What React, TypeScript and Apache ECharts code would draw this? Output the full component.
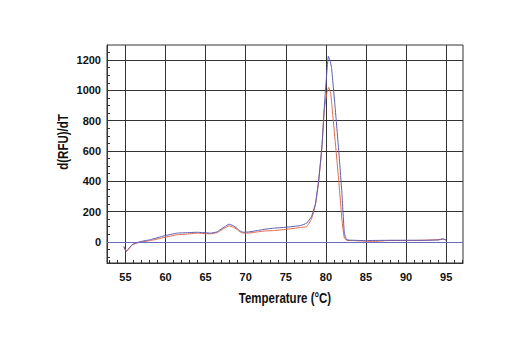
import React, { useEffect, useRef } from "react";
import * as echarts from "echarts";

const blueX = [54.8, 55.1, 55.5, 55.8, 56.3, 56.9, 58.1, 59.8, 61.4, 62.5, 63.9, 65.0, 65.6, 66.4, 66.8, 67.4, 67.9, 68.4, 68.9, 69.3, 69.7, 70.5, 71.4, 72.5, 73.5, 75.0, 76.8, 77.6, 78.2, 78.7, 79.1, 79.5, 79.8, 80.1, 80.3, 80.5, 80.7, 81.15, 81.6, 82.0, 82.3, 82.6, 83.5, 85, 86, 88, 90, 92, 94, 94.6, 95.0];
const blueY = [-30, -62, -40, -20, -8, 2, 14, 39, 57, 60, 63, 60, 57, 65, 79, 100, 116, 108, 90, 72, 63, 66, 74, 84, 90, 96, 107, 123, 166, 254, 407, 626, 889, 1108, 1225, 1200, 1152, 889, 604, 320, 57, 13, 10, 8, 9, 10, 10, 10, 12, 18, 12];

const redX = [54.8, 55.1, 55.5, 55.8, 56.3, 56.9, 58.1, 59.8, 61.4, 62.5, 63.9, 65.0, 65.6, 66.4, 66.8, 67.4, 67.9, 68.4, 68.9, 69.3, 69.7, 70.5, 71.4, 72.5, 73.5, 75.0, 76.8, 77.6, 78.2, 78.7, 79.1, 79.5, 79.8, 80.1, 80.35, 80.6, 80.75, 81.15, 81.6, 82.0, 82.3, 82.6, 83.5, 85, 86, 88, 90, 92, 94, 94.6, 95.0];
const redY = [-35, -65, -42, -22, -10, -2, 8, 28, 46, 50, 57, 54, 53, 60, 72, 92, 105, 98, 82, 65, 57, 58, 65, 72, 74, 82, 94, 100, 150, 245, 400, 620, 870, 980, 1020, 980, 900, 670, 407, 144, 24, 10, 8, 4, 3, 9, 9, 10, 14, 20, 10];

const xMajorTicks = [55, 60, 65, 70, 75, 80, 85, 90, 95];
const xMinorTicks = [53, 54, 56, 57, 58, 59, 61, 62, 63, 64, 66, 67, 68, 69, 71, 72, 73, 74, 76, 77, 78, 79, 81, 82, 83, 84, 86, 87, 88, 89, 91, 92, 93, 94, 96, 97];
const yMajorTicks = [0, 200, 400, 600, 800, 1000, 1200];
const yMinorTicks = [-100, -50, 50, 100, 150, 250, 300, 350, 450, 500, 550, 650, 700, 750, 850, 900, 950, 1050, 1100, 1150, 1250];

const xTitle = "Temperature (°C)";
const yTitle = "d(RFU)/dT";

const FONT = "'Liberation Sans', Arial, sans-serif";
const X_MIN = 52.7;
const X_MAX = 97.1;
const Y_MIN = -140;
const Y_MAX = 1300;

export default function App() {
  const ref = useRef<HTMLDivElement>(null);
  useEffect(() => {
    if (!ref.current) return;
    const chart = echarts.init(ref.current, undefined, { renderer: "svg" });
    const pair = (xs: number[], ys: number[]) => xs.map((x, i) => [x, ys[i]]);
    const minorAxisCommon = {
      axisLine: { show: false, onZero: false },
      axisLabel: { show: false },
      splitLine: { show: false },
    };
    chart.setOption({
      animation: false,
      backgroundColor: "#fff",
      grid: {
        left: 107,
        right: 57,
        top: 45,
        bottom: 87,
        show: true,
        borderColor: "#333",
        borderWidth: 1,
        containLabel: false,
      },
      graphic: [
        {
          type: "text",
          x: 63,
          y: 142,
          rotation: Math.PI / 2,
          scaleX: 0.82,
          style: {
            text: yTitle,
            fill: "#111",
            font: `bold 14px ${FONT}`,
            textAlign: "center",
            textVerticalAlign: "middle",
          },
        },
        {
          type: "text",
          x: 285,
          y: 298,
          scaleX: 0.82,
          style: {
            text: xTitle,
            fill: "#111",
            font: `bold 14px ${FONT}`,
            textAlign: "center",
            textVerticalAlign: "middle",
          },
        },
      ],
      xAxis: [
        {
          type: "value",
          position: "bottom",
          min: X_MIN,
          max: X_MAX,
          axisLine: { show: true, onZero: false, lineStyle: { color: "#333" } },
          axisTick: { show: true, inside: true, length: 5, customValues: xMajorTicks, lineStyle: { color: "#333" } },
          axisLabel: { customValues: xMajorTicks, formatter: (v: number) => String(v), color: "#111", fontFamily: FONT, fontWeight: "bold", fontSize: 11, margin: 8 },
          splitLine: { show: true, lineStyle: { color: "#333", width: 1 } },
        },
        {
          type: "value",
          position: "bottom",
          min: X_MIN,
          max: X_MAX,
          ...minorAxisCommon,
          axisTick: { show: true, inside: true, length: 3, customValues: xMinorTicks, lineStyle: { color: "#333" } },
        },
      ],
      yAxis: [
        {
          type: "value",
          position: "left",
          min: Y_MIN,
          max: Y_MAX,
          axisLine: { show: true, onZero: false, lineStyle: { color: "#333" } },
          axisTick: { show: true, inside: true, length: 5, customValues: yMajorTicks, lineStyle: { color: "#333" } },
          axisLabel: { customValues: yMajorTicks, formatter: (v: number) => String(v), color: "#111", fontFamily: FONT, fontWeight: "bold", fontSize: 11, margin: 6 },
          splitLine: { show: true, lineStyle: { color: "#333", width: 1 } },
        },
        {
          type: "value",
          position: "left",
          min: Y_MIN,
          max: Y_MAX,
          ...minorAxisCommon,
          axisTick: { show: true, inside: true, length: 3, customValues: yMinorTicks, lineStyle: { color: "#333" } },
        },
      ],
      series: [
        {
          type: "line",
          name: "Red",
          data: pair(redX, redY),
          xAxisIndex: 0,
          yAxisIndex: 0,
          showSymbol: false,
          symbol: "none",
          smooth: 0.1,
          lineStyle: { color: "#e06848", width: 1 },
          z: 3,
        },
        {
          type: "line",
          name: "Blue",
          data: pair(blueX, blueY),
          xAxisIndex: 0,
          yAxisIndex: 0,
          showSymbol: false,
          symbol: "none",
          smooth: 0.1,
          lineStyle: { color: "#5c5cb0", width: 1 },
          z: 4,
          markLine: {
            silent: true,
            symbol: "none",
            label: { show: false },
            lineStyle: { color: "#6a6ac0", width: 1, type: "solid" },
            data: [{ yAxis: 0 }],
          },
        },
      ],
    });
    return () => chart.dispose();
  }, []);
  return <div ref={ref} style={{ position: "absolute", left: 0, top: 0, width: 520, height: 350 }} />;
}
